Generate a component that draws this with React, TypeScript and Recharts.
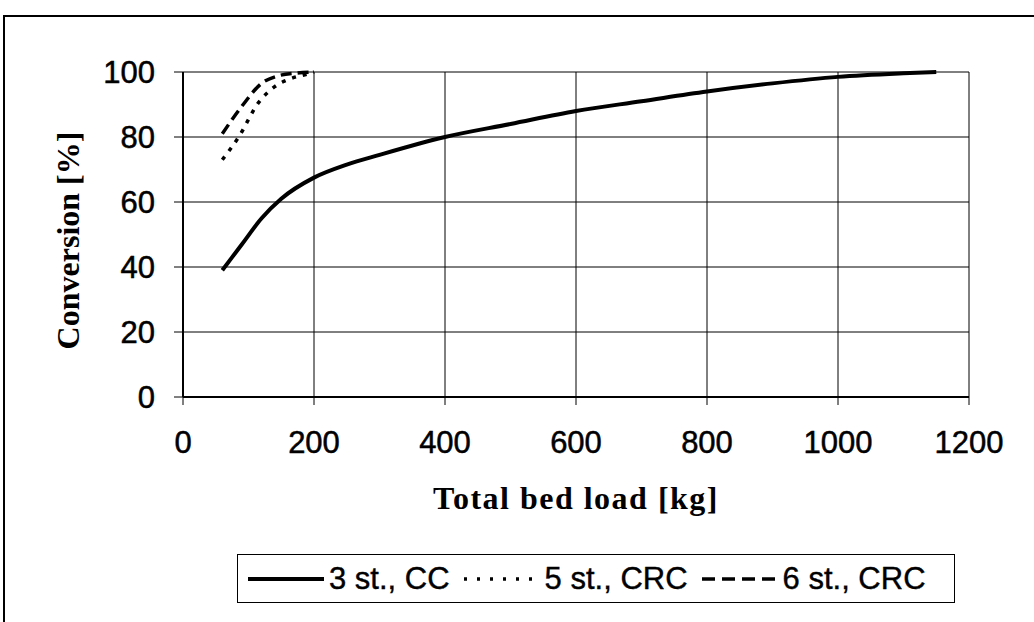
import { LineChart, Line, XAxis, YAxis, CartesianGrid, Legend, Label } from "recharts";

// 3 st., CC (solid)
const cc3X = [60, 90, 120, 150, 200, 250, 300, 400, 500, 600, 700, 800, 900, 1000, 1100, 1150];
const cc3Y = [39, 47, 55, 61, 67.5, 71.5, 74.5, 80, 84, 88, 91, 94, 96.5, 98.5, 99.6, 100];

// 5 st., CRC (dotted)
const crc5X = [60, 85, 115, 140, 165, 190, 200];
const crc5Y = [73, 80, 90.5, 95.5, 98, 99.4, 100];

// 6 st., CRC (dashed)
const crc6X = [60, 90, 120, 145, 175, 200];
const crc6Y = [81, 89.5, 96.5, 98.8, 99.7, 100];

const xTicks = [0, 200, 400, 600, 800, 1000, 1200];
const yTicks = [0, 20, 40, 60, 80, 100];

const toPoints = (xs: number[], ys: number[]) => xs.map((x, i) => ({ x, y: ys[i] }));

const series = [
    { name: "3 st., CC", data: toPoints(cc3X, cc3Y), dash: undefined, legendDash: undefined, width: 4 },
    { name: "5 st., CRC", data: toPoints(crc5X, crc5Y), dash: "4 7", legendDash: "3 10", width: 3.5 },
    { name: "6 st., CRC", data: toPoints(crc6X, crc6Y), dash: "11 6", legendDash: "13 7", width: 3.5 },
];

const sans = "'Liberation Sans', Arial, sans-serif";
const serif = "'Liberation Serif', 'Times New Roman', serif";

const tickFont = { fontFamily: sans, fontSize: 31, fill: "#000", stroke: "#000", strokeWidth: 0.5 };
const titleFont = { fontFamily: serif, fontSize: 32, fontWeight: "bold", fill: "#000" };

const YTitle = ({ viewBox }: any) => {
    const x = viewBox.x + 79;
    const y = viewBox.y + viewBox.height / 2 + 6;
    return (
        <text x={x} y={y} transform={`rotate(-90, ${x}, ${y})`} textAnchor="middle" style={titleFont}>
            Conversion [%]
        </text>
    );
};

const LegendBox = () => (
    <div style={{
        border: "1.5px solid #000",
        display: "flex",
        alignItems: "center",
        height: 49,
        paddingLeft: 9,
        fontFamily: sans,
        fontSize: 31,
        color: "#000",
        boxSizing: "border-box",
        whiteSpace: "nowrap",
        WebkitTextStroke: "0.4px #000",
    }}>
        {series.map((s) => (
            <span key={s.name} style={{ display: "flex", alignItems: "center", flexShrink: 0, marginRight: 13 }}>
                <svg width={78} height={12} style={{ marginRight: 4 }}>
                    <line x1={1} y1={6} x2={77} y2={6} stroke="#000" strokeWidth={s.width} strokeDasharray={s.legendDash} />
                </svg>
                <span>{s.name}</span>
            </span>
        ))}
    </div>
);

const App = () => (
    <div style={{ position: "absolute", left: 0, top: 0, width: 1034, height: 622, background: "#fff" }}>
        <div style={{ position: "absolute", left: 3, top: 15, width: 1031, height: 607, borderLeft: "2px solid #000", borderTop: "2px solid #000" }} />
        <LineChart width={1034} height={622} margin={{ top: 72, right: 65, left: 0, bottom: 100 }}>
            <CartesianGrid stroke="#000" strokeWidth={1} />
            <XAxis
                type="number"
                dataKey="x"
                domain={[0, 1200]}
                ticks={xTicks}
                allowDuplicatedCategory={false}
                height={125}
                tick={tickFont}
                tickSize={8}
                tickMargin={26}
                axisLine={{ stroke: "#000", strokeWidth: 2 }}
                tickLine={{ stroke: "#000" }}
            >
                <Label value="Total bed load [kg]" position="insideBottom" offset={13} style={{ ...titleFont, letterSpacing: 1.5 }} />
            </XAxis>
            <YAxis
                type="number"
                domain={[0, 100]}
                ticks={yTicks}
                width={183}
                tick={tickFont}
                tickSize={9}
                tickMargin={19}
                axisLine={{ stroke: "#000", strokeWidth: 2 }}
                tickLine={{ stroke: "#000" }}
            >
                <Label content={YTitle} />
            </YAxis>
            {series.map((s) => (
                <Line
                    key={s.name}
                    data={s.data}
                    dataKey="y"
                    name={s.name}
                    type="monotone"
                    stroke="#000"
                    strokeWidth={s.width}
                    strokeDasharray={s.dash}
                    dot={false}
                    isAnimationActive={false}
                />
            ))}
            <Legend
                layout="horizontal"
                align="center"
                verticalAlign="middle"
                wrapperStyle={{ left: 237, top: 554, width: 718 }}
                content={() => <LegendBox />}
            />
        </LineChart>
    </div>
);

export default App;
